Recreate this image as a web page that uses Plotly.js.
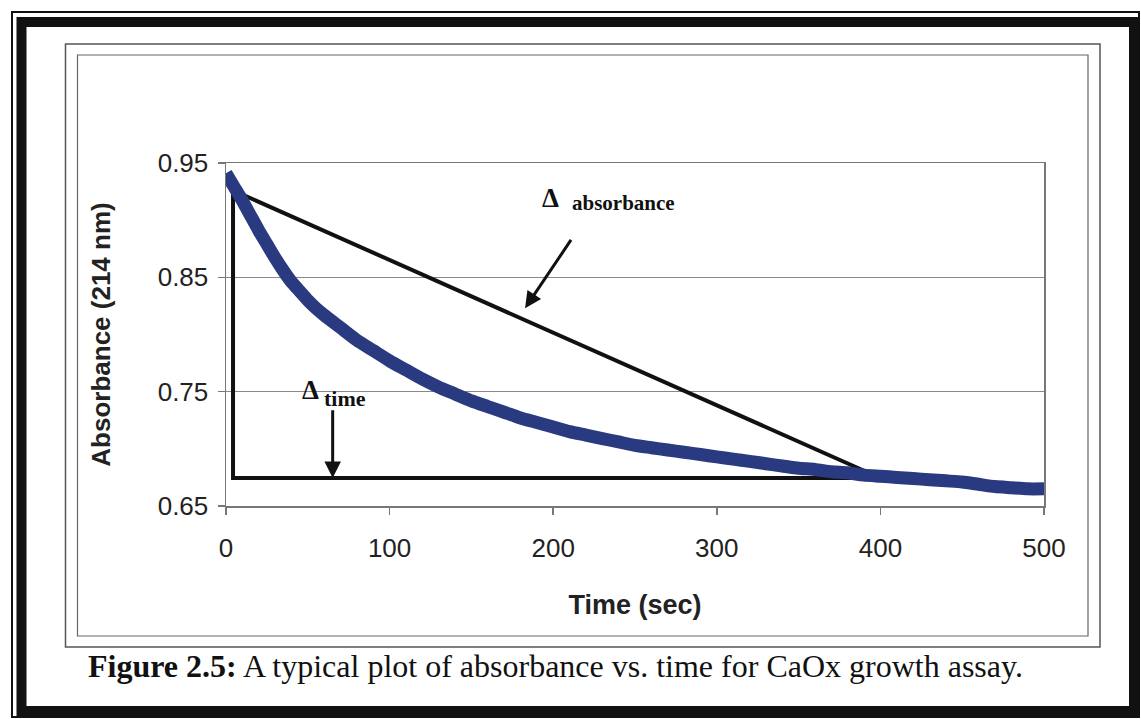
<!DOCTYPE html>
<html>
<head>
<meta charset="utf-8">
<script src="https://cdn.plot.ly/plotly-3.0.1.min.js"></script>
<style>
html,body{margin:0;padding:0;background:#fff;}
#chart{width:1141px;height:719px;}
</style>
</head>
<body>
<div id="chart"></div>
<script>
// Absorbance curve
const timeSec = [0, 5, 10, 15, 20, 25, 30, 35, 40, 45, 50, 55, 60, 70, 80, 90, 100, 110, 120, 130, 140, 150, 160, 170, 180, 190, 200, 210, 220, 230, 240, 250, 260, 270, 280, 290, 300, 310, 320, 330, 340, 350, 360, 370, 380, 390, 400, 410, 420, 430, 440, 450, 460, 470, 480, 490, 500];
const absorbance = [0.941, 0.929, 0.917, 0.904, 0.891, 0.879, 0.867, 0.856, 0.846, 0.838, 0.830, 0.823, 0.817, 0.806, 0.795, 0.786, 0.777, 0.769, 0.761, 0.754, 0.748, 0.742, 0.737, 0.732, 0.727, 0.723, 0.719, 0.715, 0.712, 0.709, 0.706, 0.703, 0.701, 0.699, 0.697, 0.695, 0.693, 0.691, 0.689, 0.687, 0.685, 0.683, 0.682, 0.680, 0.679, 0.677, 0.676, 0.675, 0.674, 0.673, 0.672, 0.671, 0.669, 0.667, 0.666, 0.665, 0.665];

// Delta triangle (hypotenuse, vertical leg, horizontal leg)
const triangleX = [400, 4.3, 4.3, 400];
const triangleY = [0.6745, 0.926, 0.6745, 0.6745];

// Arrows: [tail x, tail y, head x, head y]
const absArrow = [211.5, 0.884, 182.8, 0.823];
const timeArrow = [65.2, 0.735, 65.2, 0.6745];

// Labels
const xTickVals = [0, 100, 200, 300, 400, 500];
const yTickVals = [0.65, 0.75, 0.85, 0.95];
const xTitle = 'Time (sec)';
const yTitle = 'Absorbance (214 nm)';
const caption = '<b>Figure 2.5:</b> A typical plot of absorbance vs. time for CaOx growth assay.';

// pixel -> paper helpers (plot area: x 226..1044, y 163..506)
const PL = 226, PR = 1044, PT = 163, PB = 506;
const px = v => (v - PL) / (PR - PL);
const py = v => (PB - v) / (PB - PT);

const traces = [
  {x: triangleX, y: triangleY, mode: 'lines', line: {color: '#111', width: 4}, hoverinfo: 'skip', showlegend: false},
  {x: timeSec, y: absorbance, mode: 'lines', line: {color: '#2a3a80', width: 13, shape: 'spline', smoothing: 0.6}, showlegend: false}
];

const serif = 'Liberation Serif, Times New Roman, serif';
const sans = 'Liberation Sans, Arial, sans-serif';

const layout = {
  width: 1141, height: 719,
  margin: {l: PL, r: 1141 - PR, t: PT, b: 719 - PB, pad: 0},
  paper_bgcolor: '#fff', plot_bgcolor: '#fff',
  showlegend: false,
  xaxis: {
    range: [0, 500], tickvals: xTickVals, ticks: 'outside', ticklen: 7, tickcolor: '#777', tickwidth: 1.5,
    showline: true, linecolor: '#777', linewidth: 1.5, mirror: true, showgrid: false, zeroline: false,
    tickfont: {family: sans, size: 26, color: '#222'}, ticklabelstandoff: 11,
    title: {text: '<b>' + xTitle + '</b>', font: {family: sans, size: 27, color: '#222'}, standoff: 33}
  },
  yaxis: {
    range: [0.65, 0.95], tickvals: yTickVals, tickformat: '.2f', ticks: 'outside', ticklen: 7, tickcolor: '#777', tickwidth: 1.5,
    showline: true, linecolor: '#777', linewidth: 1.5, mirror: true, showgrid: true, gridcolor: '#888', gridwidth: 1, zeroline: false,
    tickfont: {family: sans, size: 26, color: '#222'}, ticklabelstandoff: 4,
    title: {text: '<b>' + yTitle + '</b>', font: {family: sans, size: 26, color: '#222'}, standoff: 39}
  },
  shapes: [
    // outer black frame
    {type: 'rect', xref: 'paper', yref: 'paper', x0: px(12), x1: px(1139), y0: py(12), y1: py(717), line: {color: '#111', width: 2}},
    {type: 'rect', xref: 'paper', yref: 'paper', x0: px(21.5), x1: px(1134), y0: py(22), y1: py(711), line: {color: '#111', width: 10}},
    // grey double frame around chart
    {type: 'rect', xref: 'paper', yref: 'paper', x0: px(65.5), x1: px(1100), y0: py(44), y1: py(647), line: {color: '#555', width: 1.5}},
    {type: 'rect', xref: 'paper', yref: 'paper', x0: px(77.5), x1: px(1088), y0: py(55), y1: py(636), line: {color: '#666', width: 1.2}}
  ],
  annotations: [
    {x: absArrow[2], y: absArrow[3], ax: absArrow[0], ay: absArrow[1], xref: 'x', yref: 'y', axref: 'x', ayref: 'y',
     showarrow: true, arrowhead: 2, arrowsize: 1.1, arrowwidth: 3, arrowcolor: '#111', text: ''},
    {x: timeArrow[2], y: timeArrow[3], ax: timeArrow[0], ay: timeArrow[1], xref: 'x', yref: 'y', axref: 'x', ayref: 'y',
     showarrow: true, arrowhead: 2, arrowsize: 1.1, arrowwidth: 3, arrowcolor: '#111', text: ''},
    {x: 198.5, y: 0.9195, xref: 'x', yref: 'y', text: '<b>Δ</b>', showarrow: false, xanchor: 'center', yanchor: 'middle',
     font: {family: serif, size: 27, color: '#111'}},
    {x: 210.5, y: 0.915, xref: 'x', yref: 'y', text: '<b>absorbance</b>', showarrow: false, xanchor: 'left', yanchor: 'middle',
     font: {family: serif, size: 21, color: '#111'}},
    {x: 51.5, y: 0.7515, xref: 'x', yref: 'y', text: '<b>Δ</b>', showarrow: false, xanchor: 'center', yanchor: 'middle',
     font: {family: serif, size: 27, color: '#111'}},
    {x: 58.5, y: 0.7444, xref: 'x', yref: 'y', text: '<b>time</b>', showarrow: false, xanchor: 'left', yanchor: 'middle',
     font: {family: serif, size: 22, color: '#111'}},
    {x: px(86), y: py(666), xref: 'paper', yref: 'paper', text: caption, showarrow: false, xanchor: 'left', yanchor: 'middle',
     font: {family: serif, size: 32, color: '#111'}}
  ]
};

Plotly.newPlot('chart', traces, layout, {staticPlot: true, displayModeBar: false});
</script>
</body>
</html>
